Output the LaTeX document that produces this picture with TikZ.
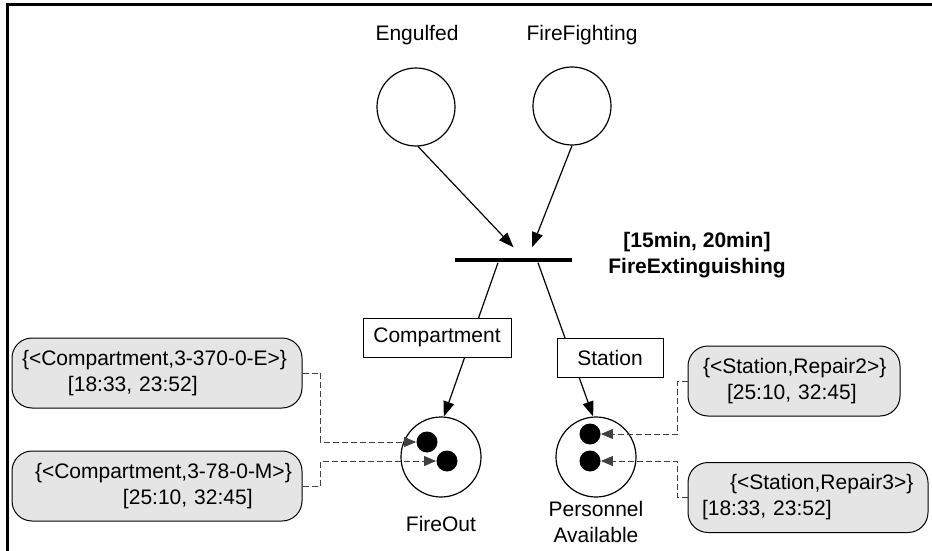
\documentclass[tikz,border=0pt]{standalone}
\usepackage{fontspec}
\setmainfont{Liberation Sans}
\usetikzlibrary{arrows.meta,positioning}

\begin{document}
\begin{tikzpicture}[
    x=0.5pt, y=-0.5pt,
    font=\fontsize{10.5}{13}\selectfont,
    >={Triangle[length=7.5pt,width=5.5pt]},
    % --- node styles -------------------------------------------------
    place/.style={
        draw, circle, line width=0.6pt,
        minimum size=39pt, inner sep=0pt
    },
    token/.style={circle, fill=black, minimum size=10.5pt, inner sep=0pt},
    trans/.style={
        fill=black, minimum width=58.5pt, minimum height=2.3pt, inner sep=0pt
    },
    plabel/.style={inner sep=0pt, align=center},
    arclbl/.style={
        draw, fill=white, line width=0.5pt,
        inner sep=0pt, minimum height=19.5pt
    },
    tokbox/.style={
        draw, fill=gray!20, rounded corners=10pt, line width=0.5pt,
        align=left, inner xsep=5pt, inner ysep=0pt, minimum height=35pt
    },
    flow/.style={->, line width=0.6pt},
    tokline/.style={
        ->, >={Triangle[length=6pt,width=5pt]},
        dash pattern=on 3pt off 1.5pt, black!75, line width=0.5pt
    }
]
\useasboundingbox (0,0) rectangle (932,551);

% --- frame (top and left edges only) ------------------------------
\draw[line width=1.5pt] (7.5,551) -- (7.5,5) -- (932,5);

% --- input places -------------------------------------------------
\node[place] (engulfed) at (416,107) {};
\node[plabel] (engulfedlbl) at (417,35) {Engulfed};
\node[place] (firefight) at (572,106) {};
\node[plabel] (firefightlbl) at (582,35) {FireFighting};

% --- transition ---------------------------------------------------
\node[trans] (extinguish) at (513.5,260) {};
\node[plabel, font=\fontsize{10.5}{13}\selectfont\bfseries] (extinguishlbl)
    at (697,255) {[15min, 20min]\\FireExtinguishing};

% --- output places with tokens ------------------------------------
\node[place, minimum size=40pt] (fireout) at (441,457) {};
\node[token] (ftok1) at (427,442) {};
\node[token] (ftok2) at (447,461) {};
\node[plabel] (fireoutlbl) at (441,524) {FireOut};

\node[place, minimum size=40pt] (personnel) at (596,457) {};
\node[token] (ptok1) at (590,434) {};
\node[token] (ptok2) at (590,461) {};
\node[plabel] (personnellbl) at (596,522) {Personnel\\Available};

% --- arcs ---------------------------------------------------------
\draw[flow] (engulfed.273) -- ([yshift=5pt]extinguish.north);
\draw[flow] (firefight.south) -- ([xshift=9.25pt,yshift=5pt]extinguish.north);
\draw[flow] ([xshift=-7.75pt]extinguish.south) -- (fireout.86);
\draw[flow] ([xshift=12.25pt]extinguish.south) -- (personnel.94);

% arc inscriptions sit on top of the arcs
\node[arclbl, minimum width=74pt] (cmplbl) at (437,337.5) {Compartment};
\node[arclbl, minimum width=53pt] (stnlbl) at (610,357.5) {Station};

% --- token values with time stamps --------------------------------
\node[tokbox, text width=135pt] (cmpE) at (157,373)
    {\{<Compartment,3-370-0-E>\}\\\hspace*{23pt}[18:33, 23:52]};
\node[tokbox, text width=135pt] (cmpM) at (157,486)
    {\hspace*{6.5pt}\{<Compartment,3-78-0-M>\}\\\hspace*{50.5pt}[25:10, 32:45]};
\node[tokbox, text width=96pt] (rep2) at (794,381)
    {\hspace*{2.5pt}\{<Station,Repair2>\}\\\hspace*{14.5pt}[25:10, 32:45]};
\node[tokbox, text width=110pt] (rep3) at (808,497.5)
    {\hspace*{16pt}\{<Station,Repair3>\}\\\hspace*{2pt}[18:33, 23:52]};

\draw[tokline] (cmpE.east) -- ++(18,0) |- (ftok1);
\draw[tokline] (cmpM.east) -- ++(18,0) |- (ftok2);
\draw[tokline] (rep2.west) -- ++(-10,0) |- (ptok1);
\draw[tokline] (rep3.west) -- ++(-10,0) |- (ptok2);

\end{tikzpicture}
\end{document}
